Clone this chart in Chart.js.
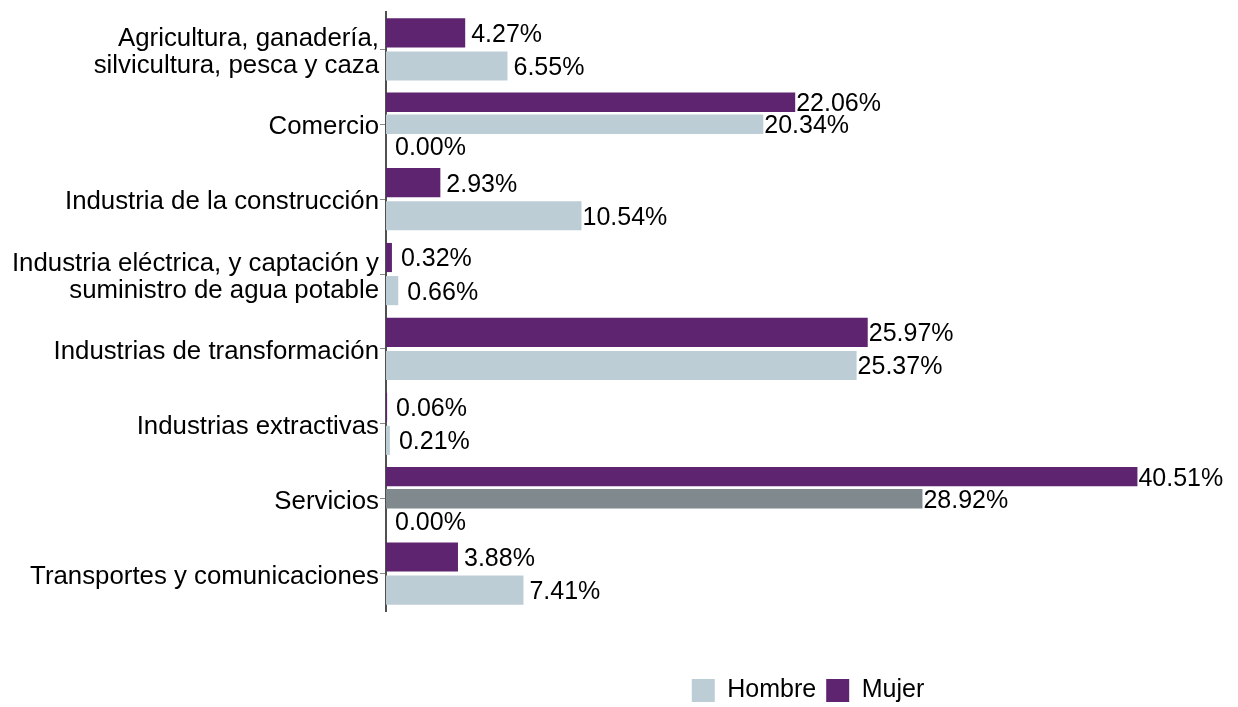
<!DOCTYPE html>
<html lang="es">
<head>
<meta charset="utf-8">
<title>Distribución por sector</title>
<script src="https://cdn.jsdelivr.net/npm/chart.js@4.4.1/dist/chart.umd.min.js"></script>
<style>
    html, body { margin: 0; padding: 0; background: #fff; }
    #wrap { width: 1238px; height: 707px; position: relative; }
</style>
</head>
<body>
<div id="wrap"><canvas id="sectorChart"></canvas></div>
<script>
// Categories (multi-line labels as arrays)
var categories = [
    ['Agricultura, ganadería,', 'silvicultura, pesca y caza'],
    'Comercio',
    'Industria de la construcción',
    ['Industria eléctrica, y captación y', 'suministro de agua potable'],
    'Industrias de transformación',
    'Industrias extractivas',
    'Servicios',
    'Transportes y comunicaciones'
];

// Percentages per sex
var mujerValues  = [4.27, 22.06, 2.93, 0.32, 25.97, 0.06, 40.51, 3.88];
var hombreValues = [6.55, 20.34, 10.54, 0.66, 25.37, 0.21, 28.92, 7.41];
// extra rows that only appear for some sectors (null = no bar)
var otroValues   = [null, 0, null, null, null, null, 0, null];

var colorMujer = 'rgb(94, 36, 112)';
var colorHombre = 'rgb(189, 205, 213)';
var colorHombreHover = 'rgb(128, 138, 142)';
var fontFamily = '"Liberation Sans", Arial, sans-serif';

// Servicios bar shown in the highlighted (hover) tone
var hombreColors = categories.map(c => c === 'Servicios' ? colorHombreHover : colorHombre);

// Draws the value next to the end of each bar
const valueLabels = {
    id: 'valueLabels',
    afterDatasetsDraw(chart) {
        const ctx = chart.ctx;
        ctx.save();
        ctx.font = '25px ' + fontFamily;
        ctx.fillStyle = '#000';
        ctx.textAlign = 'left';
        ctx.textBaseline = 'middle';
        chart.data.datasets.forEach((ds, di) => {
            const meta = chart.getDatasetMeta(di);
            meta.data.forEach((bar, i) => {
                const v = ds.data[i];
                if (v === null || v === undefined) return;
                const offset = v < 1 ? 9 : (v < 10 ? 6 : 1);
                ctx.fillText(v.toFixed(2) + '%', bar.x + offset, bar.y + 2);
            });
        });
        ctx.restore();
    }
};

const ctx = document.getElementById('sectorChart').getContext('2d');
window.sectorChart = new Chart(ctx, {
    type: 'bar',
    data: {
        labels: categories,
        datasets: [
            {
                label: 'Mujer',
                data: mujerValues,
                backgroundColor: colorMujer,
                skipNull: true
            },
            {
                label: 'Hombre',
                data: hombreValues,
                backgroundColor: hombreColors,
                skipNull: true
            },
            {
                label: 'Otro',
                data: otroValues,
                backgroundColor: colorHombre,
                skipNull: true
            }
        ]
    },
    options: {
        indexAxis: 'y',
        responsive: true,
        maintainAspectRatio: false,
        animation: false,
        categoryPercentage: 0.884,
        barPercentage: 0.88,
        layout: {
            padding: { top: 12, right: 8, bottom: -6, left: 0 }
        },
        plugins: {
            tooltip: { enabled: false },
            legend: {
                position: 'bottom',
                fullSize: false,
                reverse: true,
                labels: {
                    boxWidth: 23,
                    boxHeight: 23,
                    padding: 10,
                    color: '#000',
                    font: { family: fontFamily, size: 25 },
                    filter: item => item.text !== 'Otro',
                    generateLabels: chart => chart.data.datasets.map((ds, i) => ({
                        text: ds.label,
                        fillStyle: i === 1 ? colorHombre : ds.backgroundColor,
                        strokeStyle: 'transparent',
                        lineWidth: 0,
                        datasetIndex: i
                    }))
                }
            }
        },
        scales: {
            x: {
                min: 0,
                max: 45.5,
                ticks: { display: false },
                grid: { display: false },
                border: { display: false },
                afterFit: scale => { scale.height = 57; }
            },
            y: {
                offset: true,
                grid: {
                    offset: false,
                    drawOnChartArea: false,
                    drawTicks: true,
                    tickLength: 6,
                    color: '#888'
                },
                border: { display: true, color: '#505050', width: 2 },
                ticks: {
                    color: '#000',
                    padding: 1,
                    labelOffset: 3,
                    font: { family: fontFamily, size: 25.8, lineHeight: 1.05 }
                },
                afterFit: scale => {
                    scale.width = 386;
                    scale.paddingTop = 0;
                    scale.paddingBottom = 0;
                }
            }
        }
    },
    plugins: [valueLabels]
});
</script>
</body>
</html>
